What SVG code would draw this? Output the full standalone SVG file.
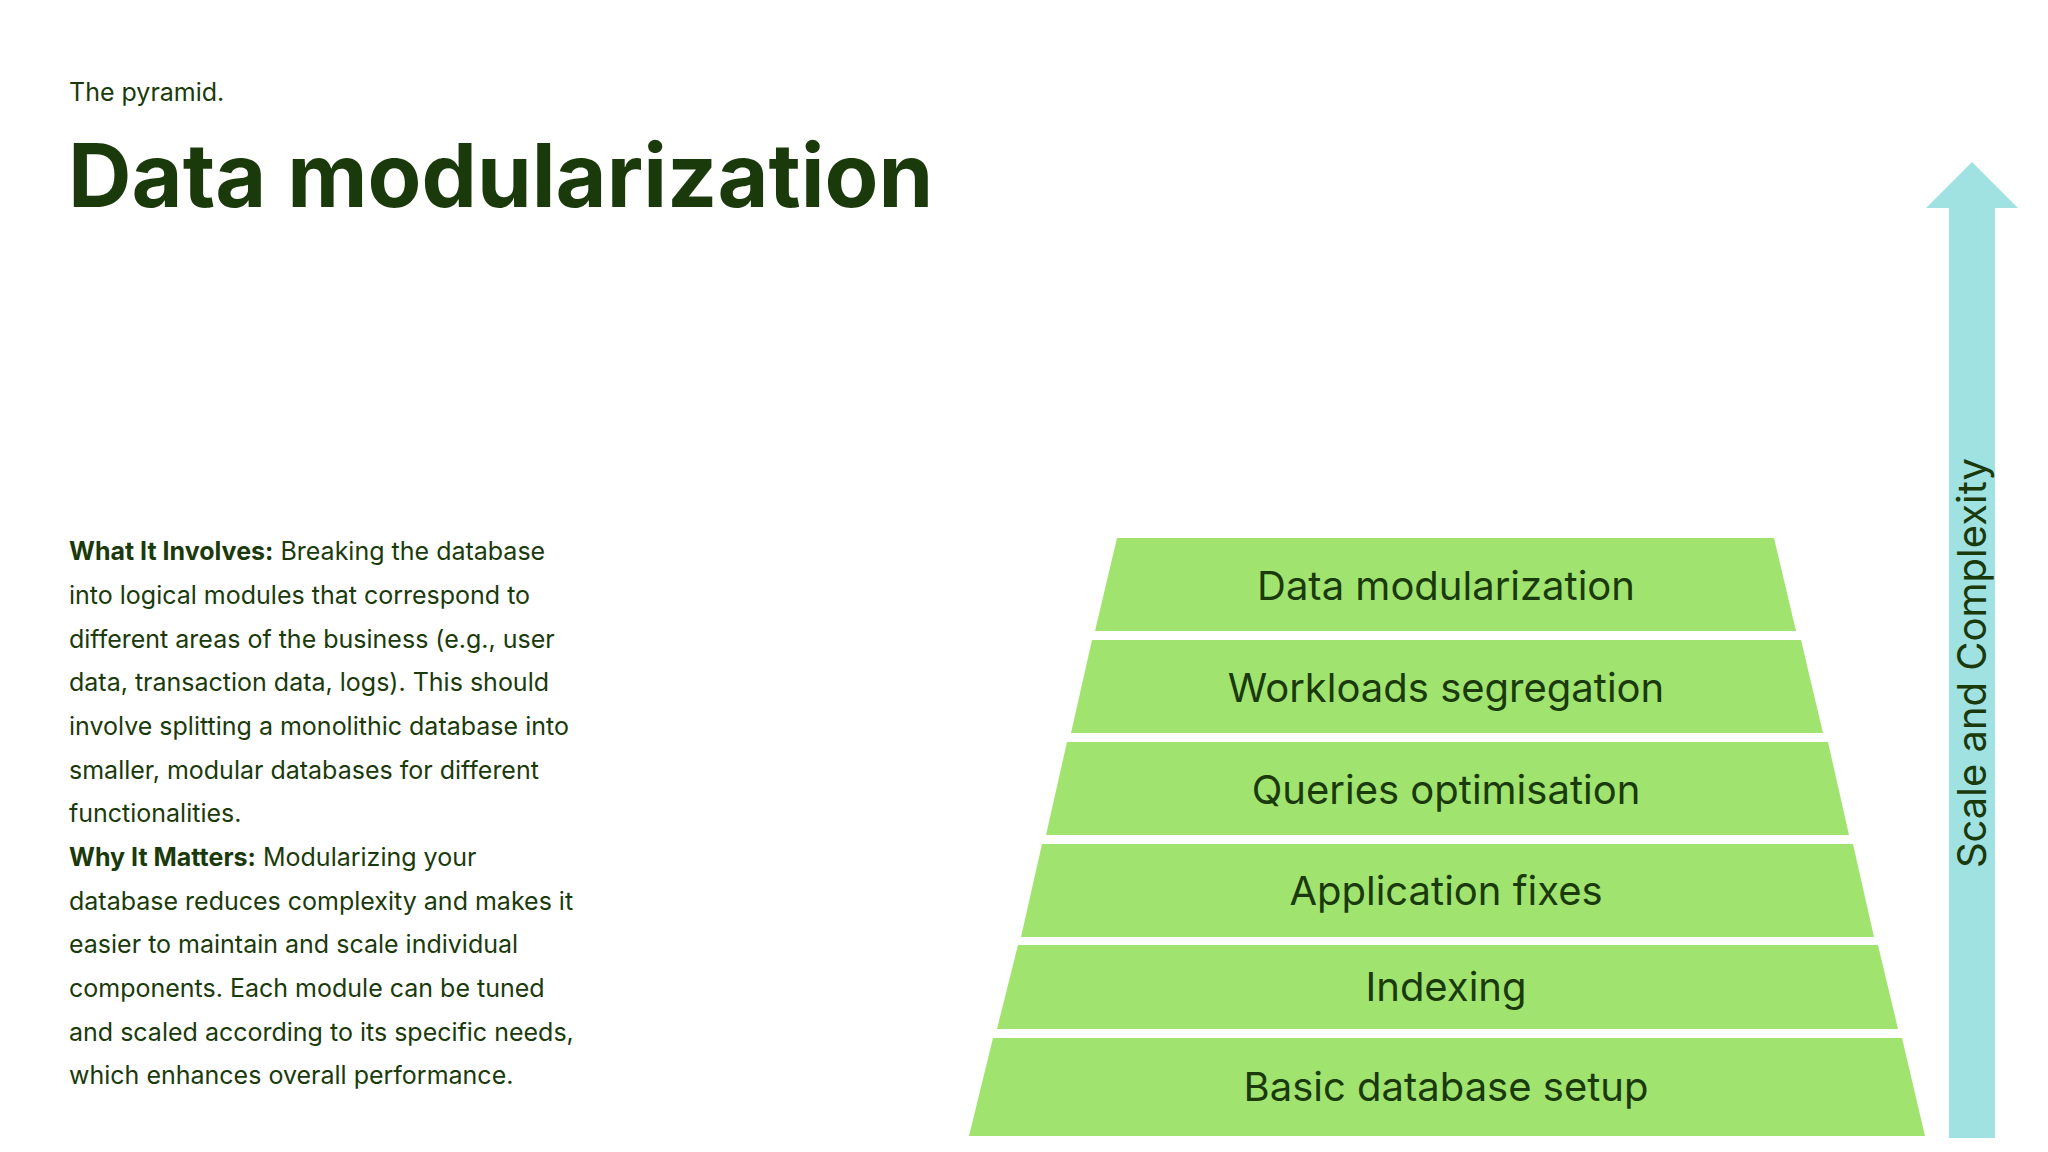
<svg xmlns="http://www.w3.org/2000/svg" width="2048" height="1152" viewBox="0 0 2048 1152">
<style>
.t{font-family:Inter,"Liberation Sans",sans-serif;fill:#1b3a0c}
.tier{fill:#a0e46f}
.lbl{font-family:Inter,"Liberation Sans",sans-serif;font-size:40px;fill:#1b3a0c;text-anchor:middle}
.body{font-size:25px}
</style>
<rect width="2048" height="1152" fill="#fff"/>
<text class="t" x="69" y="101" font-size="25">The pyramid.</text>
<text class="t" x="68" y="207" font-size="88" font-weight="700">Data modularization</text>
<g class="t body">
<text x="69" y="560"><tspan font-weight="700">What It Involves:</tspan> Breaking the database</text>
<text x="69" y="604">into logical modules that correspond to</text>
<text x="69" y="648">different areas of the business (e.g., user</text>
<text x="69" y="691">data, transaction data, logs). This should</text>
<text x="69" y="735">involve splitting a monolithic database into</text>
<text x="69" y="779">smaller, modular databases for different</text>
<text x="69" y="822">functionalities.</text>
<text x="69" y="866"><tspan font-weight="700">Why It Matters:</tspan> Modularizing your</text>
<text x="69" y="910">database reduces complexity and makes it</text>
<text x="69" y="953">easier to maintain and scale individual</text>
<text x="69" y="997">components. Each module can be tuned</text>
<text x="69" y="1041">and scaled according to its specific needs,</text>
<text x="69" y="1084">which enhances overall performance.</text>
</g>
<g id="tier1"><polygon class="tier" points="1117,538 1774,538 1796,631 1095,631"/><text class="lbl" x="1446" y="600">Data modularization</text></g>
<g id="tier2"><polygon class="tier" points="1092,640 1801,640 1823,733 1071,733"/><text class="lbl" x="1446" y="702">Workloads segregation</text></g>
<g id="tier3"><polygon class="tier" points="1067,742 1828,742 1849,835 1046,835"/><text class="lbl" x="1446" y="804">Queries optimisation</text></g>
<g id="tier4"><polygon class="tier" points="1042,844 1853,844 1874,937 1021,937"/><text class="lbl" x="1446" y="905">Application fixes</text></g>
<g id="tier5"><polygon class="tier" points="1018,945 1878,945 1898,1029 997,1029"/><text class="lbl" x="1446" y="1001">Indexing</text></g>
<g id="tier6"><polygon class="tier" points="993,1038 1902,1038 1925,1136 969,1136"/><text class="lbl" x="1446" y="1101">Basic database setup</text></g>
<g id="axis">
<polygon fill="#a0e2e1" points="1972,162 2018,208 1995,208 1995,1138 1949,1138 1949,208 1926,208"/>
<text class="t" font-size="40" text-anchor="middle" transform="translate(1986,663) rotate(-90)">Scale and Complexity</text>
</g>
</svg>
